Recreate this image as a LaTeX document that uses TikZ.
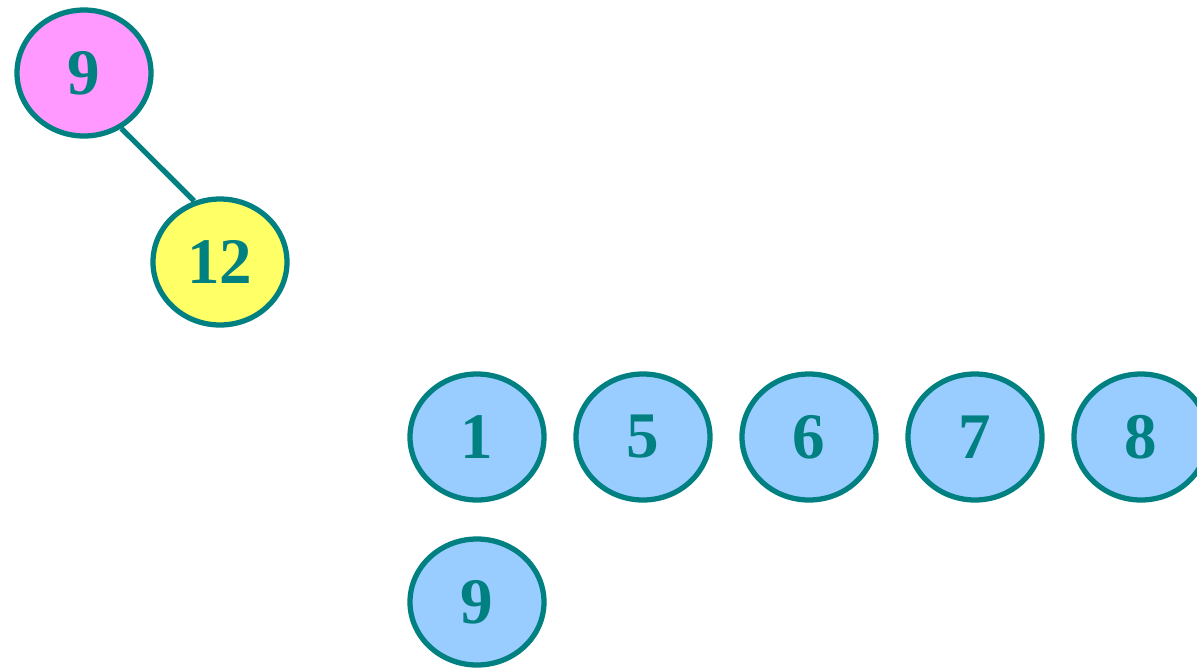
\documentclass[tikz,border=0pt]{standalone}
\usepackage{fontspec}
\setmainfont{Liberation Serif}
\usepackage{tikz}
\usetikzlibrary{shapes.geometric}
\usepackage{xcolor}
\definecolor{edgeTeal}{RGB}{0, 128, 128}
\definecolor{fillPink}{RGB}{255, 153, 255}
\definecolor{fillYellow}{RGB}{255, 255, 102}
\definecolor{fillBlue}{RGB}{153, 204, 255}

\tikzset{
  keynode/.style={ellipse, draw=edgeTeal, line width=1.5pt, text=edgeTeal,
    minimum width=1.34cm, minimum height=1.26cm, inner sep=0pt,
    font=\fontsize{18.5}{20}\selectfont\bfseries},
}

\begin{document}
\begin{tikzpicture}
  \useasboundingbox (0,0) rectangle (11.97,-6.69);
  \clip (0,0) rectangle (11.97,-6.69);

  % small tree
  \node[keynode, fill=fillPink] (top9) at (0.84,-0.73) {9};
  \node[keynode, fill=fillYellow] (top12) at (2.20,-2.62) {12};
  \draw[edgeTeal, line width=1.5pt] (top9.-56) -- (top12.113);

  % remaining keys
  \node[keynode, fill=fillBlue] (k1) at (4.77,-4.37) {1};
  \node[keynode, fill=fillBlue] (k5) at (6.43,-4.37) {5};
  \node[keynode, fill=fillBlue] (k6) at (8.09,-4.37) {6};
  \node[keynode, fill=fillBlue] (k7) at (9.75,-4.37) {7};
  \node[keynode, fill=fillBlue] (k8) at (11.41,-4.37) {8};
  \node[keynode, fill=fillBlue] (k9) at (4.77,-6.02) {9};
\end{tikzpicture}
\end{document}
